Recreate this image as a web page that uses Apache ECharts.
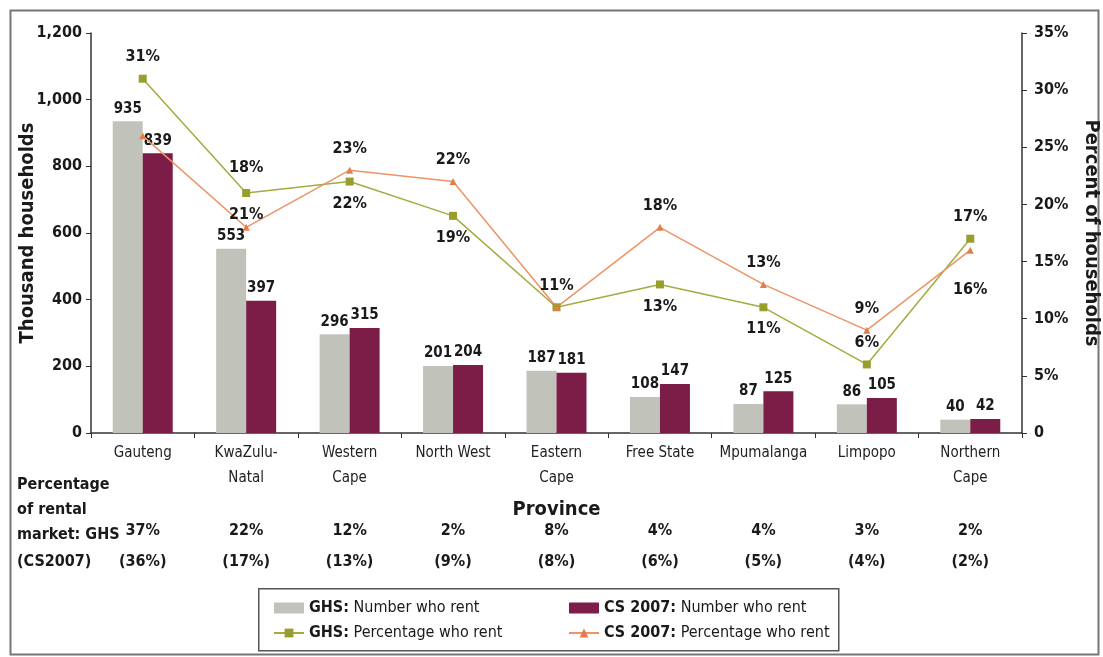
<!DOCTYPE html>
<html>
<head>
<meta charset="utf-8">
<script src="https://cdn.jsdelivr.net/npm/echarts@6/dist/echarts.min.js"></script>
<style>
    html, body { margin: 0; padding: 0; background: #fff; }
    #chart { width: 1103px; height: 657px; }
</style>
</head>
<body>
<div id="chart"></div>
<script>
// categories and values
const provinces = ['Gauteng', 'KwaZulu-\nNatal', 'Western\nCape', 'North West', 'Eastern\nCape',
    'Free State', 'Mpumalanga', 'Limpopo', 'Northern\nCape'];
const ghsNumber = [935, 553, 296, 201, 187, 108, 87, 86, 40];
const csNumber = [839, 397, 315, 204, 181, 147, 125, 105, 42];
const ghsPercent = [31, 21, 22, 19, 11, 13, 11, 6, 17];
const csPercent = [26, 18, 23, 22, 11, 18, 13, 9, 16];
const ghsMarketShare = [37, 22, 12, 2, 8, 4, 4, 3, 2];
const csMarketShare = [36, 17, 13, 9, 8, 6, 5, 4, 2];

const FONT = '"DejaVu Sans Condensed", "Liberation Sans Narrow", "Liberation Sans", sans-serif';
const GREY = '#c1c3ba';
const MAROON = '#7b1d46';
const OLIVE = '#a5ab3e';
const ORANGE = '#ec9466';

// where each percentage label sits (null = not shown)
const ghsLabelPos = ['top', 'bottom', 'bottom', 'bottom', null, 'bottom', 'bottom', 'top', 'top'];
const csLabelPos = [null, 'top', 'top', 'top', 'top', 'top', 'top', 'top', 'bottom'];
const csLabelShift = [0, -38, 0, 0, 0, 0, 0, 0, 18];

function pctData(values, pos, shift) {
    return values.map(function (v, i) {
        if (!pos[i]) return { value: v, label: { show: false } };
        return { value: v, label: { show: true, position: pos[i], offset: [0, shift ? shift[i] : 0] } };
    });
}

const pctLabel = {
    show: true,
    distance: 10,
    formatter: '{c}%',
    fontFamily: FONT,
    fontWeight: 'bold',
    fontSize: 16,
    color: '#1a1a1a'
};
const barLabel = {
    show: true,
    position: 'top',
    distance: 5,
    fontFamily: FONT,
    fontWeight: 'bold',
    fontSize: 15,
    color: '#1a1a1a'
};

function legendFormatter(name) {
    var parts = name.split(':');
    return '{b|' + parts[0] + ':}{n|' + parts[1] + '}';
}
const legendText = {
    rich: {
        b: { fontFamily: FONT, fontWeight: 'bold', fontSize: 16, color: '#1a1a1a' },
        n: { fontFamily: FONT, fontSize: 16, color: '#1a1a1a' }
    }
};

var myChart = echarts.init(document.getElementById('chart'));

myChart.setOption({
    backgroundColor: '#fff',
    animation: false,
    grid: {
        left: 91,
        right: 81,
        top: 33,
        bottom: 224,
        outerBoundsMode: 'none',
        containLabel: false
    },
    legend: [
        {
            orient: 'vertical',
            left: 268,
            top: 595,
            itemGap: 9,
            itemWidth: 30,
            itemHeight: 11,
            data: [{ name: 'GHS: Number who rent', icon: 'rect' }, 'GHS: Percentage who rent'],
            formatter: legendFormatter,
            textStyle: legendText
        },
        {
            orient: 'vertical',
            left: 563,
            top: 595,
            itemGap: 9,
            itemWidth: 30,
            itemHeight: 11,
            data: [{ name: 'CS 2007: Number who rent', icon: 'rect' }, 'CS 2007: Percentage who rent'],
            formatter: legendFormatter,
            textStyle: legendText
        }
    ],
    xAxis: [
        {
            type: 'category',
            data: provinces,
            name: 'Province',
            nameLocation: 'middle',
            nameGap: 67,
            nameMoveOverlap: false,
            nameTextStyle: { fontFamily: FONT, fontWeight: 'bold', fontSize: 20, color: '#1a1a1a' },
            axisLine: { lineStyle: { color: '#333', width: 1.5 } },
            axisTick: { show: true, length: 5, inside: false, lineStyle: { color: '#333' } },
            axisLabel: {
                interval: 0,
                margin: 8,
                fontFamily: FONT,
                fontSize: 15,
                lineHeight: 25,
                color: '#222'
            }
        },
        {
            type: 'category',
            data: provinces,
            position: 'bottom',
            offset: 82,
            axisLine: { show: false },
            axisTick: { show: false },
            axisLabel: {
                interval: 0,
                margin: 8,
                fontFamily: FONT,
                fontWeight: 'bold',
                fontSize: 16,
                color: '#1a1a1a',
                formatter: function (v, i) { return ghsMarketShare[i] + '%'; }
            }
        },
        {
            type: 'category',
            data: provinces,
            position: 'bottom',
            offset: 113,
            axisLine: { show: false },
            axisTick: { show: false },
            axisLabel: {
                interval: 0,
                margin: 8,
                fontFamily: FONT,
                fontWeight: 'bold',
                fontSize: 16,
                color: '#1a1a1a',
                formatter: function (v, i) { return '(' + csMarketShare[i] + '%)'; }
            }
        }
    ],
    yAxis: [
        {
            type: 'value',
            min: 0,
            max: 1200,
            interval: 200,
            name: 'Thousand households',
            nameLocation: 'middle',
            nameRotate: 90,
            nameGap: 53,
            nameMoveOverlap: false,
            nameTextStyle: { fontFamily: FONT, fontWeight: 'bold', fontSize: 20, color: '#1a1a1a' },
            splitLine: { show: false },
            axisLine: { show: true, lineStyle: { color: '#333', width: 1.5 } },
            axisTick: { show: true, length: 5, lineStyle: { color: '#333' } },
            axisLabel: {
                margin: 9,
                fontFamily: FONT,
                fontWeight: 'bold',
                fontSize: 16,
                color: '#1a1a1a',
                formatter: function (v) { return v.toLocaleString('en-US'); }
            }
        },
        {
            type: 'value',
            min: 0,
            max: 35,
            interval: 5,
            position: 'right',
            name: 'Percent of households',
            nameLocation: 'middle',
            nameRotate: -90,
            nameGap: 59,
            nameMoveOverlap: false,
            nameTextStyle: { fontFamily: FONT, fontWeight: 'bold', fontSize: 20, color: '#1a1a1a' },
            splitLine: { show: false },
            axisLine: { show: true, lineStyle: { color: '#333', width: 1.5 } },
            axisTick: { show: true, length: 5, lineStyle: { color: '#333' } },
            axisLabel: {
                margin: 12,
                fontFamily: FONT,
                fontWeight: 'bold',
                fontSize: 16,
                color: '#1a1a1a',
                formatter: function (v) { return v === 0 ? '0' : v + '%'; }
            }
        }
    ],
    graphic: [
        {
            type: 'rect',
            left: 8,
            top: 8,
            shape: { width: 1088, height: 644 },
            style: { fill: null, stroke: '#777', lineWidth: 2 },
            z: 0
        },
        {
            type: 'rect',
            left: 258,
            top: 588,
            shape: { width: 580, height: 62 },
            style: { fill: '#fff', stroke: '#555', lineWidth: 1.5 },
            z: 0
        },
        {
            type: 'text',
            left: 17,
            top: 472,
            style: {
                text: 'Percentage\nof rental\nmarket: GHS',
                font: 'bold 16px ' + FONT,
                lineHeight: 25,
                fill: '#1a1a1a'
            }
        },
        {
            type: 'text',
            left: 17,
            top: 554,
            style: {
                text: '(CS2007)',
                font: 'bold 16px ' + FONT,
                fill: '#1a1a1a'
            }
        }
    ],
    series: [
        {
            name: 'GHS: Number who rent',
            type: 'bar',
            data: ghsNumber,
            barWidth: 30,
            barGap: '0%',
            itemStyle: { color: GREY },
            label: barLabel,
            z: 2
        },
        {
            name: 'CS 2007: Number who rent',
            type: 'bar',
            data: csNumber,
            barWidth: 30,
            itemStyle: { color: MAROON },
            label: barLabel,
            z: 2
        },
        {
            name: 'GHS: Percentage who rent',
            type: 'line',
            yAxisIndex: 1,
            data: pctData(ghsPercent, ghsLabelPos),
            symbol: 'rect',
            symbolSize: 8,
            lineStyle: { color: OLIVE, width: 1.5 },
            itemStyle: { color: '#979e2e' },
            label: pctLabel,
            z: 4
        },
        {
            name: 'CS 2007: Percentage who rent',
            type: 'line',
            yAxisIndex: 1,
            data: pctData(csPercent, csLabelPos, csLabelShift),
            symbol: 'triangle',
            symbolSize: 7,
            lineStyle: { color: ORANGE, width: 1.5 },
            itemStyle: { color: '#e47d4a' },
            label: pctLabel,
            z: 4
        }
    ]
});
</script>
</body>
</html>
